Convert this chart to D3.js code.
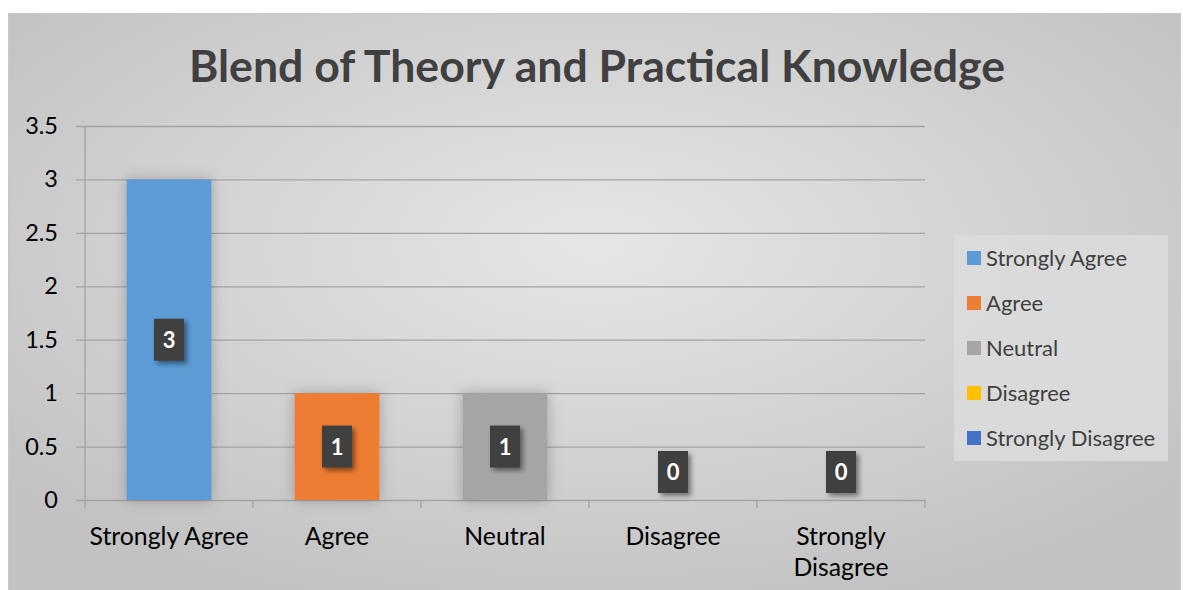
<!DOCTYPE html>
<html>
<head>
<meta charset="utf-8">
<script src="https://cdn.jsdelivr.net/npm/d3@7"></script>
<style>
  body { margin: 0; background: #ffffff; }
  svg { display: block; font-family: Lato, "Open Sans", sans-serif; }
</style>
</head>
<body>
<svg width="1183" height="590"></svg>
<script>
// chart data
const chartTitle = "Blend of Theory and Practical Knowledge";
const categories = ["Strongly Agree", "Agree", "Neutral", "Disagree", "Strongly Disagree"];
const counts = [3, 1, 1, 0, 0];
const barColors = ["#5B9BD5", "#ED7D31", "#A5A5A5", "#FFC000", "#4472C4"];
const yTicks = [0, 0.5, 1, 1.5, 2, 2.5, 3, 3.5];

const svg = d3.select("svg");
const defs = svg.append("defs");

// background gradient, lighter middle and darker sides
const bg = defs.append("radialGradient").attr("id", "bgGrad")
    .attr("cx", "50%").attr("cy", "40%").attr("r", "65%");
bg.append("stop").attr("offset", "0%").attr("stop-color", "#e6e6e6");
bg.append("stop").attr("offset", "100%").attr("stop-color", "#c2c2c2");

const barShadow = defs.append("filter").attr("id", "barShadow")
    .attr("x", "-40%").attr("y", "-40%").attr("width", "180%").attr("height", "180%");
barShadow.append("feDropShadow").attr("dx", 0).attr("dy", 0)
    .attr("stdDeviation", 7).attr("flood-color", "#000").attr("flood-opacity", 0.25);

const boxShadow = defs.append("filter").attr("id", "boxShadow")
    .attr("x", "-50%").attr("y", "-50%").attr("width", "200%").attr("height", "200%");
boxShadow.append("feDropShadow").attr("dx", 3).attr("dy", 3)
    .attr("stdDeviation", 2.5).attr("flood-color", "#000").attr("flood-opacity", 0.45);

// chart frame
svg.append("rect")
    .attr("x", 8.5).attr("y", 13.5)
    .attr("width", 1172).attr("height", 580)
    .attr("fill", "url(#bgGrad)")
    .attr("stroke", "#c8c8c8");

svg.append("text")
    .attr("x", 597).attr("y", 82)
    .attr("text-anchor", "middle")
    .attr("font-size", 44.6).attr("font-weight", "bold")
    .attr("fill", "#404040")
    .text(chartTitle);

const plotLeft = 85, plotRight = 925, plotTop = 126, plotBottom = 500;

const xScale = d3.scaleBand().domain(categories).range([plotLeft, plotRight]);
const yScale = d3.scaleLinear().domain([0, 3.5]).range([plotBottom, plotTop]);

// y axis with gridlines
const yAxis = d3.axisLeft(yScale)
    .tickValues(yTicks)
    .tickSize(-(plotRight - plotLeft + 9))
    .tickPadding(18)
    .tickFormat(d3.format("~g"));

const yG = svg.append("g")
    .attr("transform", `translate(${plotLeft - 9},0)`)
    .call(yAxis);
yG.select(".domain").remove();
yG.selectAll(".tick line").attr("stroke", "#a3a3a3").attr("stroke-width", 1.3);
yG.selectAll(".tick text")
    .attr("font-size", 23.5).attr("fill", "#000")
    .attr("font-family", "Lato, sans-serif");

svg.append("line")
    .attr("x1", plotLeft).attr("x2", plotLeft)
    .attr("y1", plotTop).attr("y2", plotBottom + 8)
    .attr("stroke", "#a3a3a3").attr("stroke-width", 1.3);

// category separator ticks
const bounds = categories.map(c => xScale(c)).concat([plotRight]);
svg.selectAll(".cat-tick")
    .data(bounds.slice(1))
    .enter().append("line")
    .attr("class", "cat-tick")
    .attr("x1", d => d).attr("x2", d => d)
    .attr("y1", plotBottom).attr("y2", plotBottom + 8)
    .attr("stroke", "#a3a3a3").attr("stroke-width", 1.3);

// bars
const barW = xScale.bandwidth() * 0.505;
svg.selectAll(".bar")
    .data(counts)
    .enter().append("rect")
    .attr("class", "bar")
    .attr("x", (d, i) => xScale(categories[i]) + (xScale.bandwidth() - barW) / 2)
    .attr("y", d => yScale(d))
    .attr("width", barW)
    .attr("height", d => plotBottom - yScale(d))
    .attr("fill", (d, i) => barColors[i])
    .attr("filter", "url(#barShadow)");

// data labels
const labelG = svg.selectAll(".dlabel")
    .data(counts)
    .enter().append("g")
    .attr("class", "dlabel")
    .attr("transform", (d, i) => {
        const cx = xScale(categories[i]) + xScale.bandwidth() / 2;
        const cy = Math.min((yScale(d) + yScale(0)) / 2, yScale(0) - 28);
        return `translate(${cx},${cy})`;
    });
labelG.append("rect")
    .attr("x", -15).attr("y", -21)
    .attr("width", 30).attr("height", 42)
    .attr("fill", "#3f3f3f")
    .attr("filter", "url(#boxShadow)");
labelG.append("text")
    .attr("text-anchor", "middle")
    .attr("y", 8)
    .attr("font-size", 22).attr("font-weight", "bold")
    .attr("fill", "#fff")
    .text(d => d);

// category labels, wrapped to band width
svg.selectAll(".cat-label")
    .data(categories)
    .enter().append("text")
    .attr("class", "cat-label")
    .attr("text-anchor", "middle")
    .attr("x", d => xScale(d) + xScale.bandwidth() / 2)
    .attr("y", 545)
    .attr("font-size", 24.8).attr("fill", "#000")
    .each(function (d) {
        const t = d3.select(this);
        t.text(d);
        if (this.getComputedTextLength() > xScale.bandwidth() - 4) {
            t.text(null);
            d.split(" ").forEach((w, k) => {
                t.append("tspan")
                    .attr("x", xScale(d) + xScale.bandwidth() / 2)
                    .attr("dy", k === 0 ? 0 : 31)
                    .text(w);
            });
        }
    });

// legend
const legend = svg.append("g").attr("transform", "translate(954,235)");
legend.append("rect")
    .attr("width", 214).attr("height", 226)
    .attr("fill", "#dcdcdc").attr("opacity", 0.85);
const rows = legend.selectAll(".lrow")
    .data(categories)
    .enter().append("g")
    .attr("class", "lrow")
    .attr("transform", (d, i) => `translate(13,${23 + i * 45})`);
rows.append("rect")
    .attr("x", 0).attr("y", -7)
    .attr("width", 14).attr("height", 14)
    .attr("fill", (d, i) => barColors[i]);
rows.append("text")
    .attr("x", 19).attr("y", 8)
    .attr("font-size", 22).attr("fill", "#404040")
    .text(d => d);
</script>
</body>
</html>
